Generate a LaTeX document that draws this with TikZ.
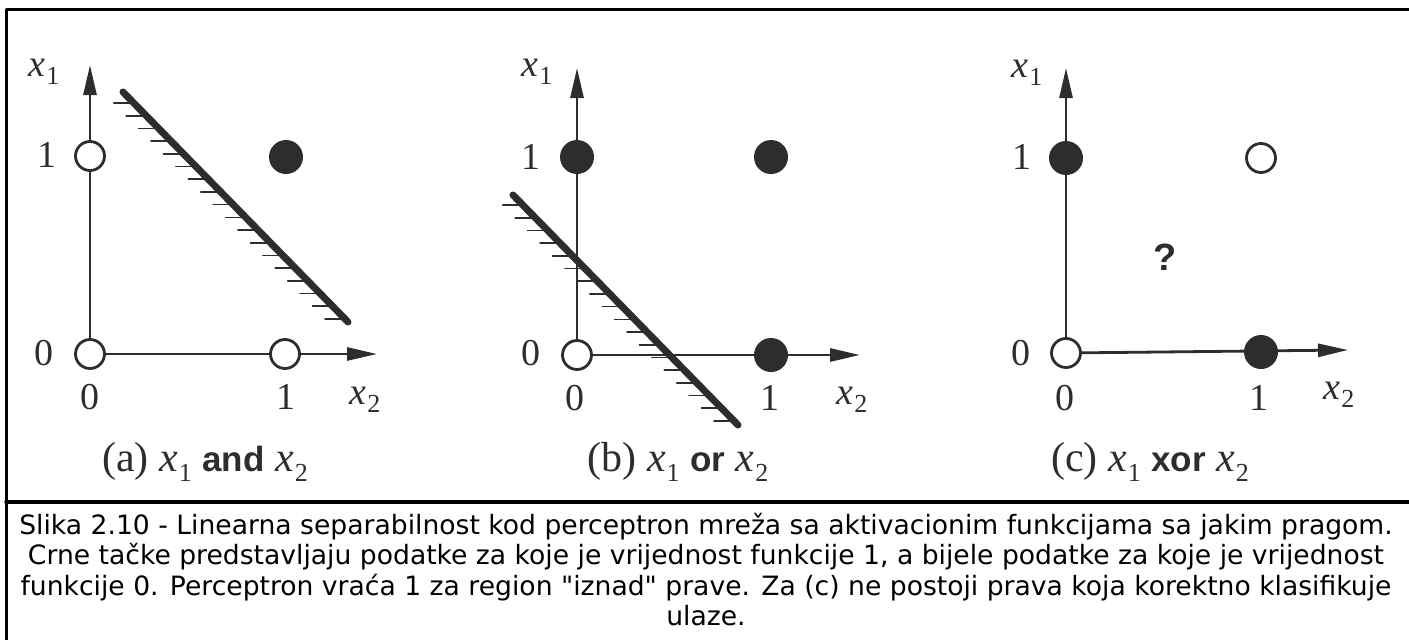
\documentclass[tikz,border=0pt]{standalone}
\usepackage{fontspec}
\setmainfont{Liberation Serif}
\setsansfont{Liberation Sans}
\newfontfamily\capfont{DejaVu Sans}
\usetikzlibrary{arrows.meta,calc}

\definecolor{ink}{RGB}{45,45,45}
\newcommand{\xv}[1]{\textit{x}\kern1pt\raisebox{-0.22em}{\fontsize{26}{26}\selectfont #1}}
\newcommand{\opw}[1]{{\sffamily\bfseries\fontsize{35}{36}\selectfont #1}}

\begin{document}
\begin{tikzpicture}[x=1pt, y=-1pt, line cap=round, line join=round,
  axis/.style={line width=2.8pt, draw=ink, -{Triangle[length=30pt,width=13pt]}},
  pt0/.style={circle, draw=ink, fill=white, line width=2.8pt, minimum size=29pt, inner sep=0pt},
  pt1/.style={circle, fill=ink, minimum size=34pt, inner sep=0pt},
  sepline/.style={line width=7pt, draw=ink},
  hatch/.style={line width=1.6pt, draw=ink},
  lbl/.style={font=\fontsize{38}{40}\selectfont, text=ink, inner sep=0pt},
  sub/.style={font=\fontsize{42}{44}\selectfont, text=ink, inner sep=0pt}]

  %% ════ 外框 ════
  \draw[line width=3pt] (1409,9) -- (6,9) -- (6,640);
  \draw[line width=3.5pt] (6,502) -- (1409,502);

  %% ════ (a) and ════
  \coordinate (a-o) at (90,354);
  \coordinate (a-y) at (90,65);
  \coordinate (a-x) at (377,354);
  \draw[axis] (a-o) -- (a-y);
  \draw[axis] (a-o) -- (a-x);
  \coordinate (a-s) at (123,92);
  \coordinate (a-e) at (348,322);
  \draw[sepline] (a-s) -- (a-e);
  \foreach \t in {0,...,17}
    \draw[hatch] ($(a-s)!{(11+12.7*\t)/230}!(a-e)$) ++(-3,0) -- ++(-17,0);
  \node[pt0] (a00) at (a-o) {};
  \node[pt0] (a01) at (90,156) {};
  \node[pt0] (a10) at (285,354) {};
  \node[pt1] (a11) at (286,157) {};
  \node[lbl] (a-x1) at (44,72) {\xv{1}};
  \node[lbl] (a-v1) at (47,155) {1};
  \node[lbl] (a-v0) at (44,353) {0};
  \node[lbl] (a-h0) at (90,397) {0};
  \node[lbl] (a-h1) at (286,397) {1};
  \node[lbl] (a-x2) at (365,400) {\xv{2}};
  \node[sub] (a-cap) at (205,462) {(a) \xv{1} \opw{and} \xv{2}};

  %% ════ (b) or ════
  \coordinate (b-o) at (577,355);
  \coordinate (b-y) at (577,68);
  \coordinate (b-x) at (860,355);
  \draw[axis] (b-o) -- (b-y);
  \draw[axis] (b-o) -- (b-x);
  \coordinate (b-s) at (513,195);
  \coordinate (b-e) at (738,425);
  \draw[sepline] (b-s) -- (b-e);
  \foreach \t in {0,...,17}
    \draw[hatch] ($(b-s)!{(10+12.7*\t)/230}!(b-e)$) ++(-3,0) -- ++(-17,0);
  \node[pt0] (b00) at (b-o) {};
  \node[pt1] (b01) at (577,157) {};
  \node[pt1] (b10) at (771,355) {};
  \node[pt1] (b11) at (771,157) {};
  \node[lbl] (b-x1) at (537,72) {\xv{1}};
  \node[lbl] (b-v1) at (531,157) {1};
  \node[lbl] (b-v0) at (531,353) {0};
  \node[lbl] (b-h0) at (575,398) {0};
  \node[lbl] (b-h1) at (770,398) {1};
  \node[lbl] (b-x2) at (852,400) {\xv{2}};
  \node[sub] (b-cap) at (678,462) {(b) \xv{1} \opw{or} \xv{2}};

  %% ════ (c) xor ════
  \coordinate (c-o) at (1066,353);
  \coordinate (c-y) at (1066,68);
  \coordinate (c-x) at (1348,350);
  \draw[axis] (c-o) -- (c-y);
  \draw[axis] (c-o) -- (c-x);
  \node[pt0] (c00) at (c-o) {};
  \node[pt1] (c01) at (1066,158) {};
  \node[pt1] (c10) at (1261,352) {};
  \node[pt0] (c11) at (1261,158) {};
  \node[text=ink, inner sep=0pt, font=\sffamily\bfseries\fontsize{38}{40}\selectfont] (c-q) at (1165,257) {?};
  \node[lbl] (c-x1) at (1027,73) {\xv{1}};
  \node[lbl] (c-v1) at (1022,157) {1};
  \node[lbl] (c-v0) at (1021,353) {0};
  \node[lbl] (c-h0) at (1065,398) {0};
  \node[lbl] (c-h1) at (1259,398) {1};
  \node[lbl] (c-x2) at (1339,395) {\xv{2}};
  \node[sub] (c-cap) at (1150,462) {(c) \xv{1} \opw{xor} \xv{2}};

  %% ════ 图注 ════
  \node[anchor=north, inner sep=0pt, align=center,
        font=\capfont\fontsize{26.6}{30.5}\selectfont] (caption) at (706,513)
    {Slika 2.10 - Linearna separabilnost kod perceptron mreža sa aktivacionim funkcijama sa jakim pragom.\\
     Crne tačke predstavljaju podatke za koje je vrijednost funkcije 1, a bijele podatke za koje je vrijednost\\
     funkcije 0. Perceptron vraća 1 za region "iznad" prave. Za (c) ne postoji prava koja korektno klasifikuje\\
     ulaze.};

  \pgfresetboundingbox
  \path[use as bounding box] (0,0) rectangle (1409,640);
\end{tikzpicture}
\end{document}
